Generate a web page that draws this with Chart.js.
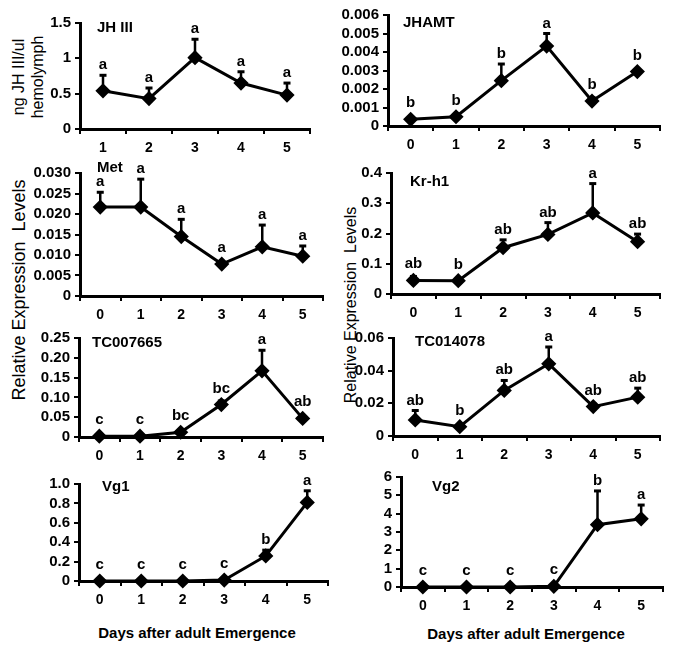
<!DOCTYPE html>
<html>
<head>
<meta charset="utf-8">
<script src="https://cdn.jsdelivr.net/npm/chart.js@4.4.1/dist/chart.umd.min.js"></script>
<style>
  html, body { margin: 0; padding: 0; background: #fff; }
  body { width: 674px; height: 649px; position: relative; overflow: hidden; font-family: "Liberation Sans", Arial, sans-serif; }
  canvas { position: absolute; }
  .lbl { position: absolute; white-space: pre; color: #000; line-height: 19px; text-align: center; transform: translate(-50%, -50%); }
  .rot { transform: translate(-50%, -50%) rotate(-90deg); }
</style>
</head>
<body>
<div class="lbl rot" style="left:28px;top:77px;font-size:16px">ng JH III/ul
hemolymph</div>
<div class="lbl rot" style="left:19px;top:290px;font-size:18px">Relative Expression  Levels</div>
<div class="lbl rot" style="left:350px;top:305px;font-size:16px">Relative Expression  Levels</div>
<div class="lbl" style="left:197px;top:632px;font-size:15px;font-weight:bold">Days after adult Emergence</div>
<div class="lbl" style="left:526px;top:633px;font-size:15px;font-weight:bold">Days after adult Emergence</div>

<script>
// categories
const daysJH = ["1", "2", "3", "4", "5"];
const days = ["0", "1", "2", "3", "4", "5"];

// JH III titre
const jhMean = [0.54, 0.43, 1.01, 0.65, 0.48];
const jhSE = [0.22, 0.15, 0.26, 0.16, 0.17];
const jhLetters = ["a", "a", "a", "a", "a"];
const jhTicks = [0, 0.5, 1, 1.5];
const jhTickLabels = ["0", "0.5", "1", "1.5"];

// JHAMT
const jhamtMean = [0.00036, 0.0005, 0.00245, 0.00432, 0.00135, 0.00294];
const jhamtSE = [0.00003, 0.00003, 0.0009, 0.00068, 0.00018, 0.00005];
const jhamtLetters = ["b", "b", "b", "a", "b", "b"];
const jhamtTicks = [0, 0.001, 0.002, 0.003, 0.004, 0.005, 0.006];
const jhamtTickLabels = ["0", "0.001", "0.002", "0.003", "0.004", "0.005", "0.006"];

// Met
const metMean = [0.0217, 0.0217, 0.0145, 0.0078, 0.012, 0.0097];
const metSE = [0.0036, 0.0068, 0.0042, 0, 0.0053, 0.0025];
const metLetters = ["a", "a", "a", "a", "a", "a"];
const metTicks = [0, 0.005, 0.01, 0.015, 0.02, 0.025, 0.03];
const metTickLabels = ["0", "0.005", "0.010", "0.015", "0.020", "0.025", "0.030"];

// Kr-h1
const krMean = [0.045, 0.044, 0.153, 0.197, 0.268, 0.173];
const krSE = [0.013, 0.006, 0.026, 0.039, 0.097, 0.025];
const krLetters = ["ab", "b", "ab", "ab", "a", "ab"];
const krTicks = [0, 0.1, 0.2, 0.3, 0.4];
const krTickLabels = ["0", "0.1", "0.2", "0.3", "0.4"];

// TC007665
const tc7665Mean = [0.002, 0.002, 0.012, 0.082, 0.167, 0.047];
const tc7665SE = [0, 0, 0.004, 0.009, 0.052, 0];
const tc7665Letters = ["c", "c", "bc", "bc", "a", "ab"];
const tc7665Ticks = [0, 0.05, 0.1, 0.15, 0.2, 0.25];
const tc7665TickLabels = ["0", "0.05", "0.10", "0.15", "0.20", "0.25"];

// TC014078
const tc4078Mean = [0.0098, 0.0057, 0.0279, 0.0442, 0.018, 0.0238];
const tc4078SE = [0.0058, 0, 0.0061, 0.0103, 0.0015, 0.0055];
const tc4078Letters = ["ab", "b", "ab", "a", "ab", "ab"];
const tc4078Ticks = [0, 0.02, 0.04, 0.06];
const tc4078TickLabels = ["0", "0.02", "0.04", "0.06"];

// Vg1
const vg1Mean = [0, 0, 0, 0.01, 0.258, 0.81];
const vg1SE = [0, 0, 0, 0, 0.06, 0.12];
const vg1Letters = ["c", "c", "c", "c", "b", "a"];
const vg1Ticks = [0, 0.2, 0.4, 0.6, 0.8, 1.0];
const vg1TickLabels = ["0", "0.2", "0.4", "0.6", "0.8", "1.0"];

// Vg2
const vg2Mean = [0, 0, 0, 0.04, 3.4, 3.72];
const vg2SE = [0, 0, 0, 0, 1.84, 0.75];
const vg2Letters = ["c", "c", "c", "c", "b", "a"];
const vg2Ticks = [0, 1, 2, 3, 4, 5, 6];
const vg2TickLabels = ["0", "1", "2", "3", "4", "5", "6"];

const FONT = "'Liberation Sans', Arial, sans-serif";
Chart.defaults.font.family = FONT;
Chart.defaults.color = "#000";

const panels = [
  { name: "JH III", cats: daysJH, mean: jhMean, se: jhSE, letters: jhLetters, ticks: jhTicks, tickLabels: jhTickLabels,
    box: { l: 80, r: 310, t: 23, b: 129 }, title: [17, 5] },
  { name: "JHAMT", cats: days, mean: jhamtMean, se: jhamtSE, letters: jhamtLetters, ticks: jhamtTicks, tickLabels: jhamtTickLabels,
    box: { l: 388, r: 660, t: 15, b: 126 }, title: [15, 8] },
  { name: "Met", cats: days, mean: metMean, se: metSE, letters: metLetters, ticks: metTicks, tickLabels: metTickLabels,
    box: { l: 80, r: 323, t: 173, b: 296 }, title: [17, -5] },
  { name: "Kr-h1", cats: days, mean: krMean, se: krSE, letters: krLetters, ticks: krTicks, tickLabels: krTickLabels,
    box: { l: 391, r: 660, t: 173, b: 294 }, title: [19, 9] },
  { name: "TC007665", cats: days, mean: tc7665Mean, se: tc7665SE, letters: tc7665Letters, ticks: tc7665Ticks, tickLabels: tc7665TickLabels,
    box: { l: 79, r: 323, t: 338, b: 437 }, title: [13, 5] },
  { name: "TC014078", cats: days, mean: tc4078Mean, se: tc4078SE, letters: tc4078Letters, ticks: tc4078Ticks, tickLabels: tc4078TickLabels,
    box: { l: 393, r: 660, t: 338, b: 436 }, title: [22, 4] },
  { name: "Vg1", cats: days, mean: vg1Mean, se: vg1SE, letters: vg1Letters, ticks: vg1Ticks, tickLabels: vg1TickLabels,
    box: { l: 79, r: 328, t: 484, b: 581 }, title: [23, 3] },
  { name: "Vg2", cats: days, mean: vg2Mean, se: vg2SE, letters: vg2Letters, ticks: vg2Ticks, tickLabels: vg2TickLabels,
    box: { l: 401, r: 663, t: 477, b: 587 }, title: [31, 10] },
];

const YW = 60, PT = 24, PR = 10, XH = 30;

// error bars (upper only), significance letters and panel name
function marks(p) {
  return {
    id: "marks",
    beforeDatasetsDraw(chart) {
      const ctx = chart.ctx, y = chart.scales.y;
      const pts = chart.getDatasetMeta(0).data;
      ctx.save();
      ctx.strokeStyle = "#000";
      pts.forEach((pt, i) => {
        if (!p.se[i]) return;
        const top = y.getPixelForValue(p.mean[i] + p.se[i]);
        ctx.lineWidth = 2.5;
        ctx.beginPath();
        ctx.moveTo(pt.x, pt.y);
        ctx.lineTo(pt.x, top);
        ctx.stroke();
        ctx.lineWidth = 3;
        ctx.beginPath();
        ctx.moveTo(pt.x - 3.5, top);
        ctx.lineTo(pt.x + 3.5, top);
        ctx.stroke();
      });
      ctx.restore();
    },
    afterDraw(chart) {
      const ctx = chart.ctx, y = chart.scales.y, area = chart.chartArea;
      const pts = chart.getDatasetMeta(0).data;
      ctx.save();
      ctx.fillStyle = "#000";
      ctx.font = "bold 15px " + FONT;
      ctx.textAlign = "center";
      ctx.textBaseline = "alphabetic";
      pts.forEach((pt, i) => {
        const top = y.getPixelForValue(p.mean[i] + p.se[i]);
        const base = Math.min(top - 6, pt.y - 12);
        ctx.fillText(p.letters[i], pt.x, base);
      });
      ctx.textAlign = "left";
      ctx.textBaseline = "middle";
      ctx.fillText(p.name, area.left + p.title[0], area.top + p.title[1]);
      ctx.restore();
    },
  };
}

function drawPanel(p) {
  const c = document.createElement("canvas");
  const w = p.box.r - p.box.l + YW + PR;
  const h = p.box.b - p.box.t + PT + XH;
  c.width = w;
  c.height = h;
  c.style.left = (p.box.l - YW) + "px";
  c.style.top = (p.box.t - PT) + "px";
  c.style.width = w + "px";
  c.style.height = h + "px";
  document.body.appendChild(c);

  new Chart(c.getContext("2d"), {
    type: "line",
    data: {
      labels: p.cats,
      datasets: [
        {
          data: p.mean,
          borderColor: "#000",
          borderWidth: 3,
          pointStyle: "rectRot",
          pointRadius: 5.5,
          pointBackgroundColor: "#000",
          pointBorderColor: "#000",
          tension: 0,
          clip: false,
        },
      ],
    },
    options: {
      responsive: false,
      animation: false,
      devicePixelRatio: 1,
      layout: { padding: { top: PT, right: PR, left: 0, bottom: 0 } },
      plugins: { legend: { display: false }, tooltip: { enabled: false } },
      scales: {
        x: {
          type: "category",
          offset: true,
          grid: { offset: true, drawOnChartArea: false, color: "#000", lineWidth: 2, tickLength: 5 },
          border: { color: "#000", width: 3 },
          ticks: { color: "#000", font: { size: 14, weight: "bold" }, padding: 6, maxRotation: 0, autoSkip: false },
          afterFit: (s) => { s.height = XH; },
        },
        y: {
          min: p.ticks[0],
          max: p.ticks[p.ticks.length - 1],
          afterBuildTicks: (s) => { s.ticks = p.ticks.map((v) => ({ value: v })); },
          grid: { drawOnChartArea: false, color: "#000", lineWidth: 2, tickLength: 5 },
          border: { color: "#000", width: 3 },
          ticks: { color: "#000", font: { size: 15, weight: "bold" }, padding: 4, autoSkip: false, callback: (v, i) => p.tickLabels[i] },
          afterFit: (s) => { s.width = YW; },
        },
      },
    },
    plugins: [marks(p)],
  });
}

panels.forEach(drawPanel);
</script>
</body>
</html>
